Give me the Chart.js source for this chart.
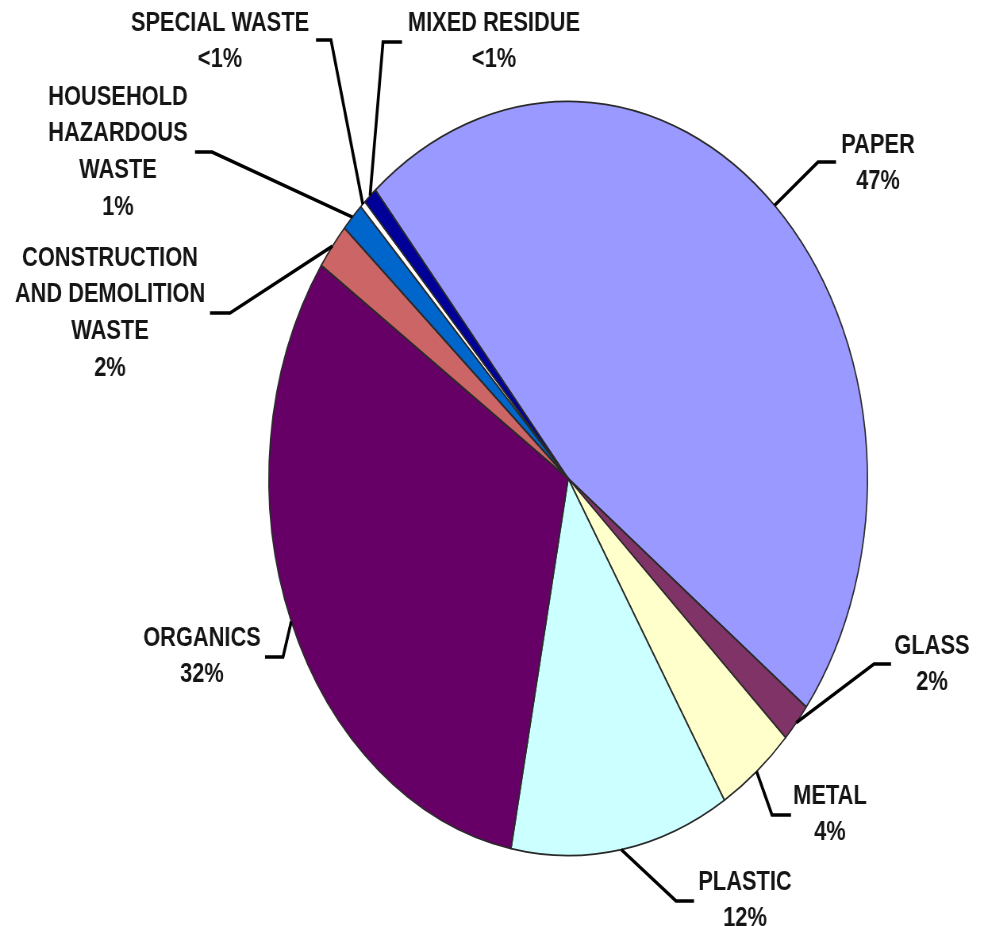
<!DOCTYPE html>
<html>
<head>
<meta charset="utf-8">
<title>Waste composition</title>
<script src="https://cdn.jsdelivr.net/npm/chart.js@4.4.1/dist/chart.umd.min.js"></script>
<style>
    html, body { margin: 0; padding: 0; background: #ffffff; overflow: hidden; }
    #wasteChart { display: block; }
</style>
</head>
<body>
<canvas id="wasteChart" width="1240" height="926" style="width:984px;height:926px"></canvas>
<script>
// Data (share of the pie, in percent)
const categories = [
    'Paper'
,   'Glass'
,   'Metal'
,   'Plastic'
,   'Organics'
,   'Construction and Demolition Waste'
,   'Household Hazardous Waste'
,   'Special Waste'
,   'Mixed Residue'
];
const shares = [46.5, 1.7, 4.2, 11.8, 31.5, 2.0, 1.25, 0.3, 0.75];
const labelTexts = [
    ['PAPER', '47%']
,   ['GLASS', '2%']
,   ['METAL', '4%']
,   ['PLASTIC', '12%']
,   ['ORGANICS', '32%']
,   ['CONSTRUCTION', 'AND DEMOLITION', 'WASTE', '2%']
,   ['HOUSEHOLD', 'HAZARDOUS', 'WASTE', '1%']
,   ['SPECIAL WASTE', '<1%']
,   ['MIXED RESIDUE', '<1%']
];

// Styles
const sliceColors = ['#9999FF', '#803366', '#FFFFCC', '#CCFFFF', '#660066', '#CC6666', '#0066CC', '#FFFFFF', '#000099'];

// The picture is squeezed sideways, so the canvas is drawn wide and shown at 984px
const SQUEEZE = 984 / 1240;

// Leader elbows, line ends and text anchors, in screen pixels
const labelLayout = [
    { elbow: [818, 162], end: [836, 162], text: [878, 145] }
,   { elbow: [874, 664], end: [891, 664], text: [932, 646] }
,   { elbow: [772, 815], end: [791, 815], text: [830, 796] }
,   { elbow: [676, 901], end: [694, 901], text: [745, 882] }
,   { elbow: [283, 657], end: [265, 657], text: [202, 638] }
,   { elbow: [230, 313], end: [210, 313], text: [110, 258] }
,   { elbow: [212, 152], end: [195, 152], text: [118, 97] }
,   { elbow: [331, 40], end: [316, 40], text: [220, 23] }
,   { elbow: [383, 42], end: [402, 42], text: [494, 23] }
];
const LINE_HEIGHT = 36.8;

const leaderLabels = {
    id: 'leaderLabels',
    afterDraw(chart) {
        const ctx = chart.ctx;
        const meta = chart.getDatasetMeta(0);
        ctx.save();
        meta.data.forEach((arc, i) => {
            const p = arc.getProps(['x', 'y', 'startAngle', 'endAngle', 'outerRadius'], true);
            const mid = (p.startAngle + p.endAngle) / 2;
            const sx = p.x + Math.cos(mid) * p.outerRadius;
            const sy = p.y + Math.sin(mid) * p.outerRadius;
            const lay = labelLayout[i];

            ctx.strokeStyle = '#000000';
            ctx.lineWidth = 3.6;
            ctx.lineJoin = 'miter';
            ctx.beginPath();
            ctx.moveTo(sx, sy);
            ctx.lineTo(lay.elbow[0] / SQUEEZE, lay.elbow[1]);
            ctx.lineTo(lay.end[0] / SQUEEZE, lay.end[1]);
            ctx.stroke();

            ctx.fillStyle = '#151515';
            ctx.font = 'bold 27.5px "Liberation Sans", Arial, sans-serif';
            ctx.textAlign = 'center';
            ctx.textBaseline = 'middle';
            labelTexts[i].forEach((line, k) => {
                ctx.fillText(line, lay.text[0] / SQUEEZE, lay.text[1] + k * LINE_HEIGHT);
            });
        });
        ctx.restore();
    }
};

const ctx = document.getElementById('wasteChart').getContext('2d');
const chart = new Chart(ctx, {
    type: 'pie',
    data: {
        labels: categories,
        datasets: [{
            data: shares,
            backgroundColor: sliceColors,
            borderColor: '#2a2a2a',
            borderWidth: 1.7
        }]
    },
    options: {
        responsive: false,
        devicePixelRatio: 1,
        animation: false,
        rotation: -40.1,
        layout: {
            padding: { left: 338, right: 146, top: 100, bottom: 69 }
        },
        plugins: {
            legend: { display: false },
            tooltip: { enabled: false }
        }
    },
    plugins: [leaderLabels]
});
</script>
</body>
</html>
